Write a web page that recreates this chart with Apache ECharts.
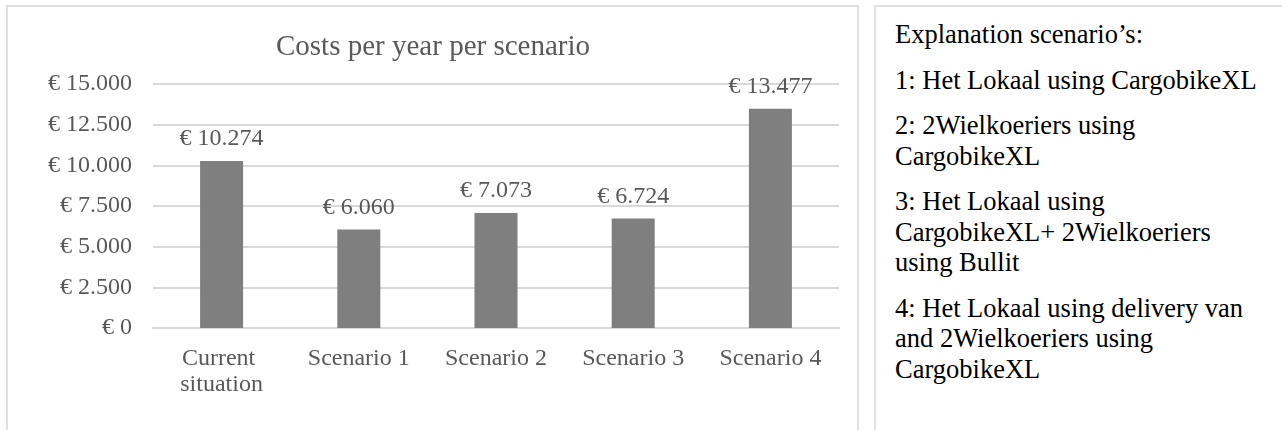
<!DOCTYPE html>
<html>
<head>
<meta charset="utf-8">
<script src="https://cdn.jsdelivr.net/npm/echarts@6/dist/echarts.min.js"></script>
<style>
  html, body { margin: 0; padding: 0; background: #fff; overflow: hidden; }
  body { width: 1282px; height: 430px; position: relative; font-family: 'Liberation Serif', 'Times New Roman', serif; }
  #box { position: absolute; left: 6px; top: 5px; width: 853px; height: 440px; border: 2px solid #e0e0e0; box-sizing: border-box; }
  #chart { position: absolute; left: 0; top: 0; width: 866px; height: 430px; }
  #notes { position: absolute; left: 874px; top: 5px; width: 420px; height: 440px; border: 2px solid #e0e0e0; box-sizing: border-box; padding: 12px 0 0 19px; color: #000; font-size: 26.5px; line-height: 30.5px; }
  #notes p { margin: 0 0 15px 0; white-space: nowrap; }
</style>
</head>
<body>
<div id="box"></div>
<div id="chart"></div>
<div id="notes"></div>
<script>
const categories = ['Current situation', 'Scenario 1', 'Scenario 2', 'Scenario 3', 'Scenario 4'];
const costs = [10274, 6060, 7073, 6724, 13477];
const notesTitle = 'Explanation scenario\u2019s:';
const notes = [
  ['1: Het Lokaal using CargobikeXL'],
  ['2: 2Wielkoeriers using', 'CargobikeXL'],
  ['3: Het Lokaal using', 'CargobikeXL+ 2Wielkoeriers', 'using Bullit'],
  ['4: Het Lokaal using delivery van', 'and 2Wielkoeriers using', 'CargobikeXL']
];

const serif = "'Liberation Serif', 'Times New Roman', serif";
const grey = '#595959';

// euro with dot as thousands separator
function euro(v) {
  return '\u20ac ' + String(Math.round(v)).replace(/\B(?=(\d{3})+(?!\d))/g, '.');
}

const notesEl = document.getElementById('notes');
const lines = [[notesTitle]].concat(notes);
lines.forEach((p) => {
  const el = document.createElement('p');
  p.forEach((t, i) => {
    if (i > 0) el.appendChild(document.createElement('br'));
    el.appendChild(document.createTextNode(t));
  });
  notesEl.appendChild(el);
});

const chart = echarts.init(document.getElementById('chart'), null, { renderer: 'canvas' });
chart.setOption({
  animation: false,
  title: {
    text: 'Costs per year per scenario',
    left: 'center',
    top: 28,
    textStyle: { color: grey, fontFamily: serif, fontSize: 29, fontWeight: 'normal' }
  },
  grid: { left: 153, right: 27, top: 84, bottom: 102 },
  xAxis: {
    type: 'category',
    data: categories,
    axisLine: { lineStyle: { color: '#d9d9d9', width: 2 } },
    axisTick: { show: false },
    axisLabel: {
      color: grey, fontFamily: serif, fontSize: 24, lineHeight: 26,
      margin: 18, width: 125, overflow: 'break', interval: 0
    }
  },
  yAxis: {
    type: 'value',
    min: 0,
    max: 15000,
    interval: 2500,
    axisLine: { show: false },
    axisTick: { show: false },
    axisLabel: { color: grey, fontFamily: serif, fontSize: 24, margin: 21, formatter: euro },
    splitLine: { lineStyle: { color: '#d9d9d9', width: 2 } }
  },
  series: [{
    type: 'bar',
    data: costs,
    barWidth: 43,
    itemStyle: { color: '#7f7f7f' },
    label: {
      show: true,
      position: 'top',
      distance: 10,
      color: grey,
      fontFamily: serif,
      fontSize: 24,
      formatter: (p) => euro(p.value)
    }
  }]
});
</script>
</body>
</html>
